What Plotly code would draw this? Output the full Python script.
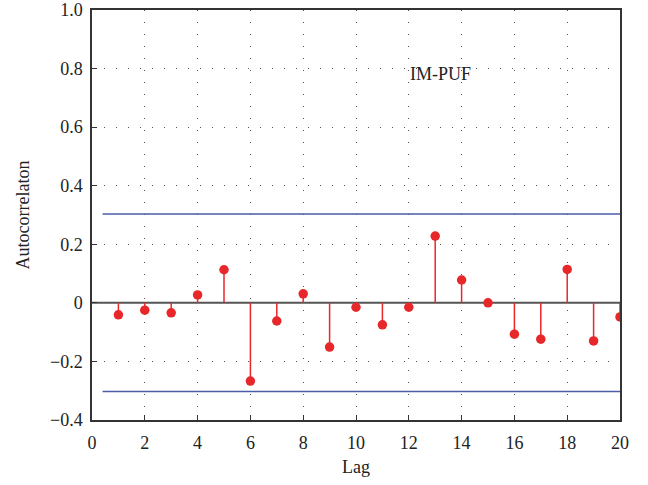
import plotly.graph_objects as go

lags = list(range(1, 21))
acf = [-0.041, -0.025, -0.034, 0.027, 0.113, -0.267, -0.062, 0.031, -0.151, -0.015,
       -0.075, -0.015, 0.228, 0.078, 0.0, -0.107, -0.124, 0.114, -0.130, -0.048]
conf_level = 0.303
conf_x = [0.4, 20]
zero_x = [0, 20]
y_tickvals = [-0.4, -0.2, 0, 0.2, 0.4, 0.6, 0.8, 1.0]
y_ticktext = ["\u22120.4", "\u22120.2", "0", "0.2", "0.4", "0.6", "0.8", "1.0"]
x_tickvals = [0, 2, 4, 6, 8, 10, 12, 14, 16, 18, 20]

RED = "#e8272b"
BLUE = "#4b5ca6"
FONT = "Liberation Serif"
TXT = "#222222"

stem_x, stem_y = [], []
for l, v in zip(lags, acf):
    stem_x += [l, l, None]
    stem_y += [0, v, None]

fig = go.Figure()
fig.add_trace(go.Scatter(x=zero_x, y=[0, 0], mode="lines",
                         line=dict(color="#555555", width=2), hoverinfo="skip"))
fig.add_trace(go.Scatter(x=conf_x, y=[conf_level, conf_level], mode="lines",
                         line=dict(color=BLUE, width=1.5)))
fig.add_trace(go.Scatter(x=conf_x, y=[-conf_level, -conf_level], mode="lines",
                         line=dict(color=BLUE, width=1.5)))
fig.add_trace(go.Scatter(x=stem_x, y=stem_y, mode="lines",
                         line=dict(color=RED, width=1.5)))
fig.add_trace(go.Scatter(x=lags, y=acf, mode="markers",
                         marker=dict(color=RED, size=9.5, line=dict(width=0))))

fig.add_annotation(x=13.2, y=0.78, text="IM-PUF", showarrow=False,
                   font=dict(family=FONT, size=18, color=TXT))

axis_common = dict(
    showline=True, linecolor="#333333", linewidth=1.5, mirror=True,
    ticks="inside", ticklen=5, tickcolor="#333333", tickwidth=1,
    showgrid=True, gridcolor="#555555", gridwidth=1, griddash="1px,11px",
    zeroline=False, tickfont=dict(family=FONT, size=18, color=TXT),
    automargin=False,
)
fig.update_xaxes(range=[0, 20], tickvals=x_tickvals, ticklabelstandoff=6,
                 title=dict(text="Lag", font=dict(family=FONT, size=18, color=TXT), standoff=8),
                 **axis_common)
fig.update_yaxes(range=[-0.4, 1.0], tickvals=y_tickvals, ticktext=y_ticktext,
                 ticklabelstandoff=4,
                 title=dict(text="Autocorrelaton", font=dict(family=FONT, size=18, color=TXT), standoff=16),
                 **axis_common)

fig.update_layout(
    width=648, height=485, showlegend=False,
    plot_bgcolor="white", paper_bgcolor="white",
    margin=dict(l=92, r=28, t=10, b=65),
    font=dict(family=FONT),
)
fig.write_html("out.html", config={"displayModeBar": False},
               post_script="document.body.style.margin='0';")
